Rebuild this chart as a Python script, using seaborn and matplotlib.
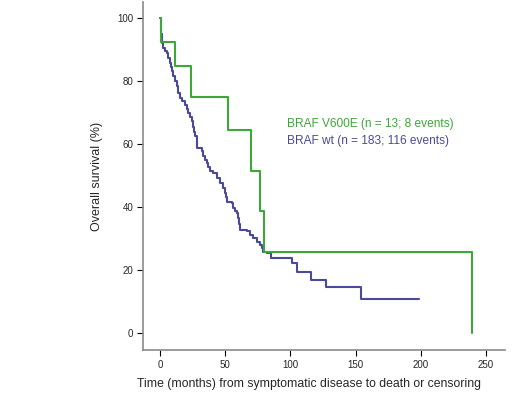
import numpy as np
import pandas as pd
import matplotlib
matplotlib.use("Agg")
import matplotlib.pyplot as plt
import seaborn as sns

# Kaplan-Meier step points (time in months, survival in %)
mut_time = [0, 1, 11.5, 23.5, 52, 69.5, 76.7, 79.5, 239]
mut_surv = [100, 92.3, 84.6, 75.0, 64.3, 51.4, 38.6, 25.7, 0]

wt_time = [0, 0.5, 1.3, 2.5, 4, 5.1, 6.4, 7.7, 8.5, 9, 10.2, 11.5, 12.8, 14,
           15.3, 17, 19.2, 20.5, 21.7, 23, 24.3, 25, 25.8, 27, 28.1, 28.5, 32,
           33.2, 34.5, 35.8, 37, 38.3, 40.9, 43.5, 46, 48.5, 49.8, 50.5, 51.1,
           55, 56.2, 57.5, 58.8, 60, 60.7, 61.3, 66.5, 69, 71.5, 74.2, 76.7,
           78, 79.2, 81.8, 84.9, 101.5, 104.8, 115.5, 127.3, 153.9, 198.6]
wt_surv = [100, 95, 92, 90.4, 89.5, 88.8, 87.2, 85.6, 84.3, 83, 81.4, 79.8, 78.2, 76.1,
           74.5, 73.5, 72.4, 71, 69.7, 68.4, 67.1, 65.5, 63.9, 62.5, 61.3, 58.6, 57.6,
           56, 55, 53.9, 52.8, 51.5, 50.7, 49.1, 47.5, 45.9, 44.3, 43, 41.7,
           41.2, 39.6, 38.8, 38, 36.4, 34.5, 32.7, 32.2, 31.1, 30.1, 29, 27.9,
           27, 25.8, 25.3, 23.7, 22.1, 19.5, 16.8, 14.5, 10.9, 10.9]

mut_label = "BRAF V600E (n = 13; 8 events)"
wt_label = "BRAF wt (n = 183; 116 events)"

GREEN = "#3fa63a"
BLUE = "#4a4a9c"

sns.set_theme(style="ticks")
plt.rcParams['font.family'] = ['Liberation Sans', 'DejaVu Sans']

fig = plt.figure(figsize=(5.2, 3.95), dpi=100)
ax = fig.add_axes([143/520, 1-350/395, (505-143)/520, (350-2)/395])

sns.lineplot(x=wt_time, y=wt_surv, drawstyle='steps-post', color=BLUE,
             linewidth=1.5, estimator=None, sort=False, ax=ax)
sns.lineplot(x=mut_time, y=mut_surv, drawstyle='steps-post', color=GREEN,
             linewidth=1.5, estimator=None, sort=False, ax=ax)

ax.set_xlim(-13, 264.6)
ax.set_ylim(-5.4, 105)
ax.set_xticks([0, 50, 100, 150, 200, 250])
ax.set_yticks([0, 20, 40, 60, 80, 100])
ax.tick_params(labelsize=7, length=4, width=0.8, color='black', pad=3)

for s in ['top', 'right']:
    ax.spines[s].set_visible(False)
for s in ['left', 'bottom']:
    ax.spines[s].set_color('#8a8a8a')
    ax.spines[s].set_linewidth(1.2)

ax.set_xlabel("Time (months) from symptomatic disease to death or censoring", fontsize=8.8)
ax.set_ylabel("Overall survival (%)", fontsize=9)
ax.xaxis.set_label_coords(0.458, -0.08)
ax.yaxis.set_label_coords(-0.11, 0.5)

ax.text(0.398, 0.648, mut_label, color=GREEN, fontsize=8.6, transform=ax.transAxes,
        va='center', ha='left')
ax.text(0.398, 0.6, wt_label, color=BLUE, fontsize=8.6, transform=ax.transAxes,
        va='center', ha='left')

plt.savefig("out.png", dpi=100)
